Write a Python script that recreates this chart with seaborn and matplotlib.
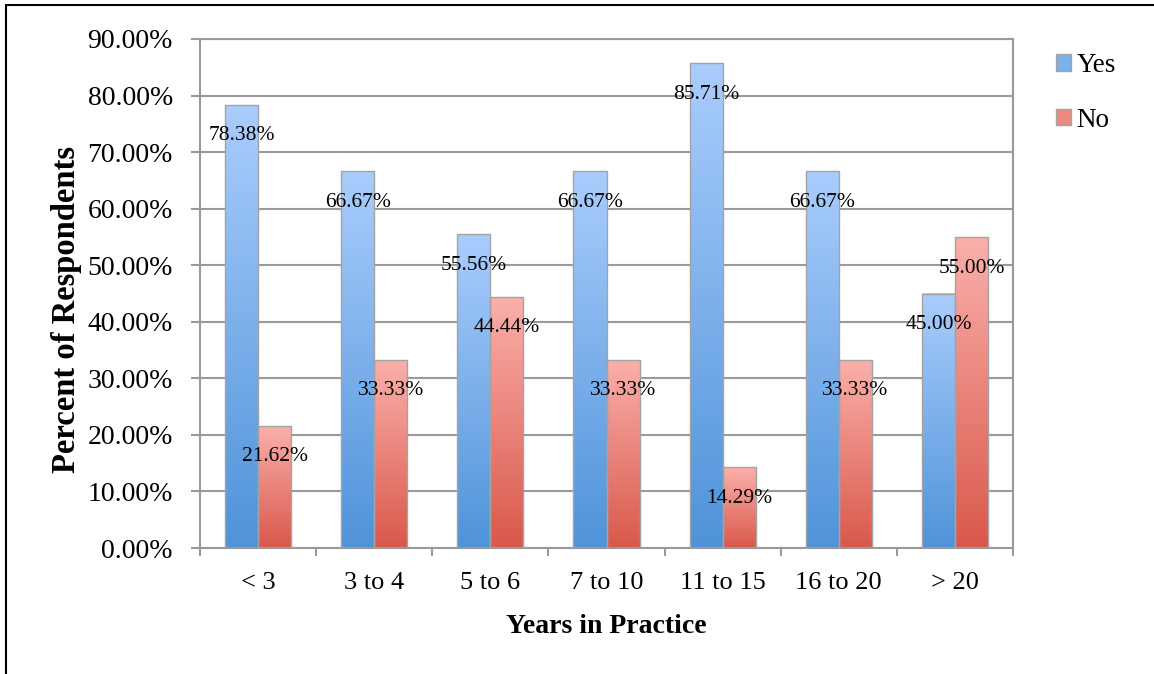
import numpy as np
import pandas as pd
import matplotlib
matplotlib.use("Agg")
import matplotlib.pyplot as plt
import seaborn as sns
from matplotlib.colors import LinearSegmentedColormap
from matplotlib.lines import Line2D
from matplotlib.patches import Patch

# Survey results by years in practice
categories = ["< 3", "3 to 4", "5 to 6", "7 to 10", "11 to 15", "16 to 20", "> 20"]
yes_pct = [78.38, 66.67, 55.56, 66.67, 85.71, 66.67, 45.00]
no_pct = [21.62, 33.33, 44.44, 33.33, 14.29, 33.33, 55.00]
series = ["Yes", "No"]
y_ticks = [0, 10, 20, 30, 40, 50, 60, 70, 80, 90]

df = pd.DataFrame({
    "years": categories * 2,
    "pct": yes_pct + no_pct,
    "answer": ["Yes"] * len(categories) + ["No"] * len(categories),
})

sns.set_theme(style="white")
plt.rcParams["font.family"] = ["Liberation Serif", "DejaVu Serif"]
plt.rcParams["text.color"] = "black"
plt.rcParams["axes.labelcolor"] = "black"

# Vertical gradients: dark at the base, light at the top of every bar
gradients = {
    "Yes": LinearSegmentedColormap.from_list("yes", ["#4f93d9", "#aacdfd"]),
    "No": LinearSegmentedColormap.from_list("no", ["#d9584b", "#fbb0ab"]),
}
mid_colors = {"Yes": "#7db1ec", "No": "#ec8a82"}
grid_gray = "#9a9a9a"
edge_gray = "#a3a3a3"

fig = plt.figure(figsize=(11.54, 6.74), dpi=100)
ax = fig.add_axes([200 / 1154, 1 - 548 / 674, 813 / 1154, 509 / 674])

sns.barplot(data=df, x="years", y="pct", hue="answer", hue_order=series,
            order=categories, palette=mid_colors, width=0.57, gap=0,
            edgecolor=edge_gray, linewidth=1.0, legend=False, ax=ax, zorder=3)

grad = np.linspace(0, 1, 256).reshape(-1, 1)
for name, container in zip(series, ax.containers):
    values = df.loc[df["answer"] == name, "pct"].to_numpy()
    for bar, val in zip(container.patches, values):
        x0, w, h = bar.get_x(), bar.get_width(), bar.get_height()
        im = ax.imshow(grad, extent=[x0, x0 + w, 0, h], origin="lower",
                       aspect="auto", cmap=gradients[name], zorder=2,
                       interpolation="bicubic")
        im.set_clip_path(bar)
        bar.set_facecolor("none")
        ax.annotate(f"{val:.2f}%", xy=(x0 + w / 2, val), xytext=(0, -22.5),
                    textcoords="offset points", ha="center", va="center",
                    fontsize=15.5, color="black", zorder=5)

ax.set_xlim(-0.5, len(categories) - 0.5)
ax.set_ylim(0, 90)
ax.set_yticks(y_ticks)
ax.set_yticklabels([f"{t:.2f}%" for t in y_ticks])
ax.yaxis.grid(True, color=grid_gray, linewidth=1.5, zorder=0)
ax.set_axisbelow(True)

# Category labels sit between tick marks placed on the category boundaries
ax.set_xticks(range(len(categories)))
ax.set_xticklabels(categories)
ax.set_xticks(np.arange(-0.5, len(categories), 1.0), minor=True)
ax.tick_params(axis="x", which="major", length=0, pad=17, labelsize=19,
               labelcolor="black")
ax.tick_params(axis="x", which="minor", length=6, width=1.5, color=grid_gray,
               direction="out", bottom=True)
ax.tick_params(axis="y", which="major", length=6.5, width=1.5, color=grid_gray,
               direction="out", left=True, pad=13, labelsize=20,
               labelcolor="black")

for side in ["left", "right", "bottom", "top"]:
    ax.spines[side].set_visible(True)
    ax.spines[side].set_color(grid_gray)
    ax.spines[side].set_linewidth(1.5)

ax.set_xlabel("Years in Practice", fontsize=20, fontweight="bold")
ax.set_ylabel("Percent of Respondents", fontsize=23.5, fontweight="bold")
ax.xaxis.set_label_coords(0.5, -0.13)
ax.yaxis.set_label_coords(-0.145, 0.468)

handles = [Patch(facecolor=mid_colors[s], edgecolor=edge_gray, linewidth=1.0)
           for s in series]
fig.legend(handles, series, loc="upper left",
           bbox_to_anchor=(1056 / 1154, 1 - 53 / 674), frameon=False,
           fontsize=19.5, handlelength=0.55, handleheight=0.55,
           handletextpad=0.2, labelspacing=1.1, borderpad=0, borderaxespad=0)

# Outer frame lines along the top and left edges
fig.add_artist(Line2D([6 / 1154, 1], [1 - 5 / 674] * 2,
                      transform=fig.transFigure, color="black", linewidth=1.5))
fig.add_artist(Line2D([6 / 1154] * 2, [0, 1 - 5 / 674],
                      transform=fig.transFigure, color="black", linewidth=1.5))

fig.savefig("out.png", dpi=100)
